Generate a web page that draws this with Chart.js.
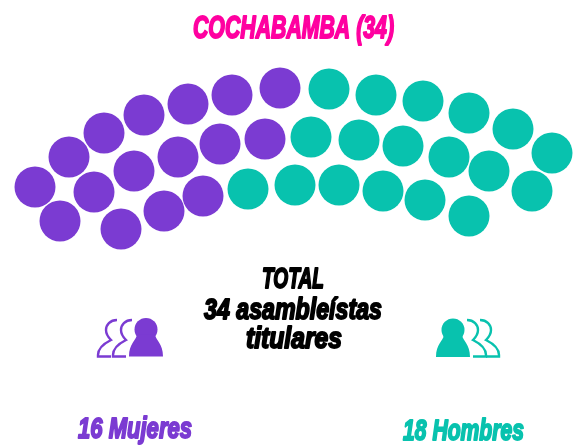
<!DOCTYPE html>
<html><head><meta charset="utf-8">
<style>html,body{margin:0;padding:0;background:#fff}#w{position:relative;width:576px;height:446px}</style>
<script src="https://cdn.jsdelivr.net/npm/chart.js@4"></script></head>
<body><div id="w"><canvas id="c" width="576" height="446"></canvas></div>
<script>
const titleText = "COCHABAMBA (34)";
const totalLines = ["TOTAL", "34 asambleístas", "titulares"];
const womenLabel = "16 Mujeres";
const menLabel = "18 Hombres";
const womenX = [35,60,69,94,104,121,134,144,164,178,188,203,220,232,265,280];
const womenY = [187,221,157,192,133,229,171,115,211,157,104,196,144,95,139,88];
const menX = [248,295,329,311,339,376,359,383,423,403,425,469,449,489,469,513,532,552];
const menY = [189,185,89,137,185,95,140,191,101,146,200,113,157,171,216,129,191,153];
const PURPLE = "#7b3bd2", TEAL = "#08c2ae", PINK = "#ff00a0", BLACK = "#000";
const FONT = "'Liberation Sans',sans-serif";

function person(ctx, x, y, color) {
  ctx.save(); ctx.translate(x, y);
  ctx.beginPath();
  ctx.arc(0, 0, 11.5, 0, Math.PI * 2);
  ctx.fillStyle = color; ctx.fill();
  ctx.beginPath();
  ctx.moveTo(-9, 5);
  ctx.lineTo(9, 5);
  ctx.bezierCurveTo(10, 11, 17, 14, 17, 27);
  ctx.lineTo(-17, 27);
  ctx.bezierCurveTo(-17, 14, -10, 11, -9, 5);
  ctx.closePath(); ctx.fill();
  ctx.restore();
}
function outline(ctx, x, y, color, dir) {
  ctx.save(); ctx.translate(x, y); ctx.scale(dir, 1);
  ctx.beginPath();
  ctx.moveTo(0, 0);
  ctx.bezierCurveTo(-7, 0, -11, 5, -11, 10);
  ctx.bezierCurveTo(-11, 14, -9, 17, -6, 20);
  ctx.bezierCurveTo(-12, 23, -19, 28, -19, 35);
  ctx.lineTo(-19, 36.5); ctx.lineTo(-6, 36.5);
  ctx.strokeStyle = color; ctx.lineWidth = 2.4; ctx.stroke();
  ctx.restore();
}
const overlay = {
  id: "overlay",
  afterDatasetsDraw(chart) {
    const ctx = chart.ctx;
    const text = (t, left, right, y, size, color) => {
      ctx.save();
      ctx.font = "italic bold " + size + "px " + FONT;
      ctx.textAlign = "center"; ctx.textBaseline = "alphabetic";
      const sx = (right - left) / ctx.measureText(t).width;
      ctx.translate((left + right) / 2, y); ctx.scale(sx, 1);
      ctx.fillStyle = color; ctx.strokeStyle = color; ctx.lineWidth = 1.9; ctx.lineJoin = "round";
      ctx.strokeText(t, 0, 0); ctx.fillText(t, 0, 0);
      ctx.restore();
    };
    text(titleText, 193, 394, 38, 31, PINK);
    text(totalLines[0], 262, 324, 288, 29, BLACK);
    text(totalLines[1], 204, 382, 319, 29, BLACK);
    text(totalLines[2], 246, 342, 348, 29, BLACK);
    text(womenLabel, 78, 192, 438, 29, PURPLE);
    text(menLabel, 403, 524, 440, 29, TEAL);
    outline(ctx, 117, 320, PURPLE, 1); outline(ctx, 132, 320, PURPLE, 1);
    person(ctx, 146, 329.5, PURPLE);
    outline(ctx, 467, 320, TEAL, -1); outline(ctx, 480, 320, TEAL, -1);
    person(ctx, 453, 330, TEAL);
  }
};
new Chart(document.getElementById("c"), {
  type: "scatter",
  data: { datasets: [
    { label: "Mujeres", data: womenX.map((x,i)=>({x, y: womenY[i]})), backgroundColor: PURPLE, borderWidth: 0, pointRadius: 20.5, pointHoverRadius: 20.5 },
    { label: "Hombres", data: menX.map((x,i)=>({x, y: menY[i]})), backgroundColor: TEAL, borderWidth: 0, pointRadius: 20.5, pointHoverRadius: 20.5 }
  ]},
  options: {
    responsive: false, animation: false,
    layout: { padding: 0, autoPadding: false },
    plugins: { legend: { display: false }, tooltip: { enabled: false } },
    scales: {
      x: { type: "linear", display: false, min: 0, max: 576 },
      y: { type: "linear", display: false, min: 0, max: 446, reverse: true }
    }
  },
  plugins: [overlay]
});
</script></body></html>
